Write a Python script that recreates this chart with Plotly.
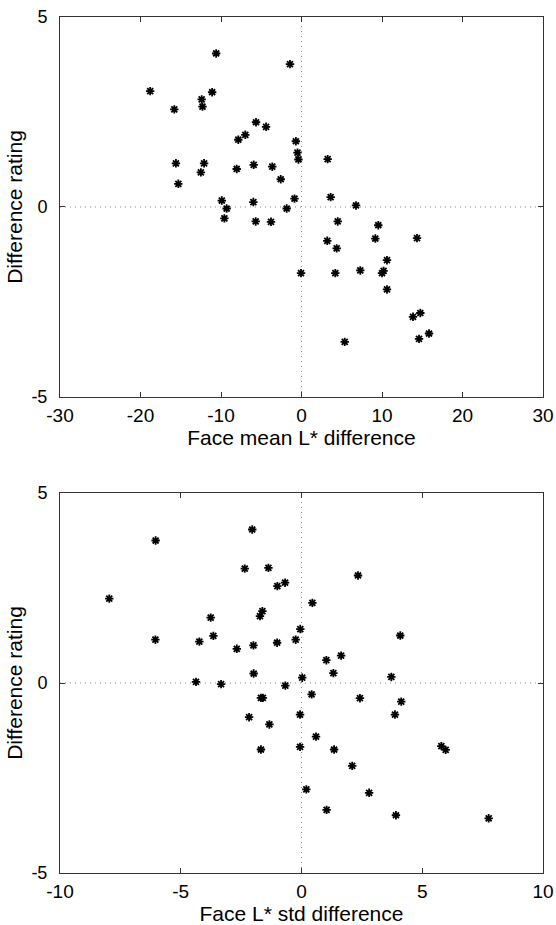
import plotly.graph_objects as go
from plotly.subplots import make_subplots

# Top panel: face mean L* difference vs difference rating
mean_L_diff = [-18.8, -10.6, -1.43, -15.8, -12.4, -12.3, -11.1, -5.65, -4.4, -7.85,
               -6.98, -0.7, -0.5, -0.38, 3.25, -15.6, -12.1, -12.5, -8.05, -5.94,
               -3.63, -2.58, -15.3, -9.9, -9.3, -5.98, -1.84, -0.87, 3.62, 6.77,
               -9.58, -5.69, -3.79, -0.06, 4.5, 9.54, 3.2, 9.17, 14.35, 4.37,
               10.62, 4.2, 7.3, 10.2, 10.0, 10.62, 13.85, 14.76, 15.84, 14.6, 5.37]
rating_top = [3.05, 4.04, 3.76, 2.57, 2.83, 2.64, 3.02, 2.23, 2.11, 1.77,
              1.90, 1.73, 1.43, 1.25, 1.26, 1.15, 1.15, 0.91, 1.0, 1.11,
              1.06, 0.73, 0.61, 0.17, -0.04, 0.13, -0.04, 0.22, 0.26, 0.04,
              -0.30, -0.38, -0.39, -1.74, -0.38, -0.48, -0.89, -0.83, -0.82, -1.09,
              -1.40, -1.74, -1.67, -1.68, -1.74, -2.17, -2.89, -2.79, -3.33, -3.47, -3.55]

# Bottom panel: face L* std difference vs difference rating
std_L_diff = [-7.96, -6.04, -2.04, -2.35, -1.37, -1.0, -0.68, -3.76, -1.62, -1.72,
              -6.05, -4.23, -3.65, -2.68, -1.99, -1.01, -0.24, 2.34, 0.45, -0.05,
              4.09, 1.03, 1.64, -4.37, -3.33, -1.98, -0.67, -1.68, -1.6, -2.17,
              -1.33, -1.68, 1.32, 3.72, 0.03, 0.42, 2.42, 4.13, -0.06, 3.87,
              0.6, -0.06, 1.35, 5.79, 5.97, 2.1, 0.2, 2.8, 1.04, 3.91, 7.75]
rating_bottom = [2.22, 3.75, 4.04, 3.01, 3.03, 2.55, 2.64, 1.72, 1.89, 1.76,
                 1.14, 1.09, 1.24, 0.90, 0.99, 1.06, 1.14, 2.83, 2.11, 1.42,
                 1.25, 0.60, 0.72, 0.03, -0.03, 0.25, -0.07, -0.39, -0.39, -0.90,
                 -1.09, -1.75, 0.26, 0.16, 0.14, -0.30, -0.40, -0.49, -0.83, -0.83,
                 -1.41, -1.68, -1.75, -1.66, -1.76, -2.18, -2.80, -2.89, -3.34, -3.48, -3.56]

x_top_ticks = [-30, -20, -10, 0, 10, 20, 30]
x_top_labels = ["-30", "-20", "-10", "0", "10", "20", "30"]
x_bottom_ticks = [-10, -5, 0, 5, 10]
x_bottom_labels = ["-10", "-5", "0", "5", "10"]
y_ticks = [-5, 0, 5]
y_labels = ["-5", "0", "5"]

fig = make_subplots(rows=2, cols=1)

marker = dict(symbol="asterisk-open", size=7, color="black",
              line=dict(color="black", width=1.8))
fig.add_trace(go.Scatter(x=mean_L_diff, y=rating_top, mode="markers",
                         marker=marker, showlegend=False), row=1, col=1)
fig.add_trace(go.Scatter(x=std_L_diff, y=rating_bottom, mode="markers",
                         marker=marker, showlegend=False), row=2, col=1)

FAM = "Liberation Sans, Arial, Helvetica, sans-serif"
xfont = dict(family=FAM, size=19, color="black")
yfont = dict(family=FAM, size=18, color="black")
axis_common = dict(showgrid=False, zeroline=False, showline=True, linecolor="#333",
                   linewidth=1, mirror="ticks", ticks="inside", ticklen=5,
                   tickcolor="#333", tickmode="array", automargin=False)

fig.update_xaxes(**axis_common, tickfont=xfont, ticklabelstandoff=1)
fig.update_yaxes(**axis_common, tickfont=yfont, ticklabelstandoff=8)

title_font = dict(family=FAM, size=21, color="black")

fig.update_layout(
    template="none",
    xaxis=dict(range=[-30, 30], tickvals=x_top_ticks, ticktext=x_top_labels, domain=[0, 1],
               title=dict(text="Face mean L* difference", font=title_font, standoff=1)),
    yaxis=dict(range=[-5, 5], tickvals=y_ticks, ticktext=y_labels, domain=[0.5561, 1],
               title=dict(text="Difference rating", font=title_font, standoff=3)),
    xaxis2=dict(range=[-10, 10], tickvals=x_bottom_ticks, ticktext=x_bottom_labels, domain=[0, 1],
                title=dict(text="Face L* std difference", font=title_font, standoff=1)),
    yaxis2=dict(range=[-5, 5], tickvals=y_ticks, ticktext=y_labels, domain=[0, 0.4439],
                title=dict(text="Difference rating", font=title_font, standoff=3)),
    width=556, height=925,
    margin=dict(l=60, r=13, t=17, b=52, autoexpand=False),
    plot_bgcolor="white", paper_bgcolor="white",
    font=dict(family=FAM, color="black"),
)

dot = dict(color="#888", width=1, dash="1px,4px")
for xr, yr in [("x", "y"), ("x2", "y2")]:
    fig.add_shape(type="line", xref=xr, yref=yr + " domain", x0=0, x1=0, y0=0, y1=1,
                  line=dot, layer="below")
    fig.add_shape(type="line", xref=xr + " domain", yref=yr, x0=0, x1=1, y0=0, y1=0,
                  line=dot, layer="below")

fig.write_html(
    "out.html",
    config={"displayModeBar": False},
    post_script="document.body.style.margin='0';document.body.style.overflow='hidden';",
)
